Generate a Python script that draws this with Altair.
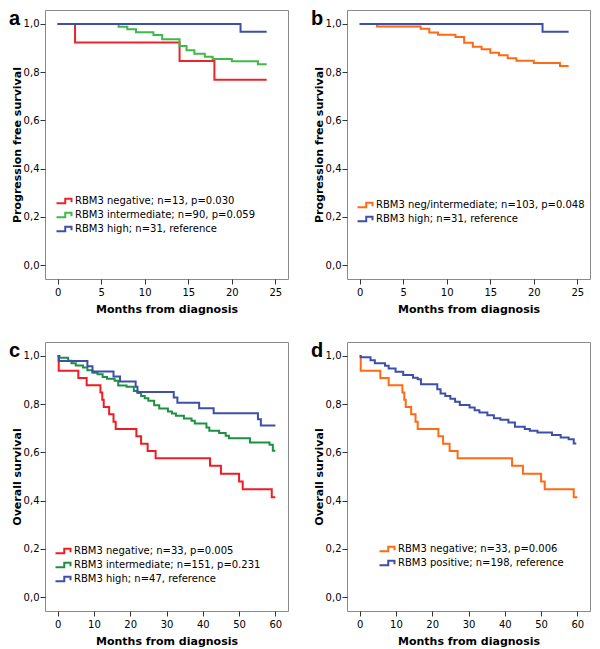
import altair as alt
import pandas as pd

# ---------------- text ----------------
letters = ["a", "b", "c", "d"]
pfs_title = "Progression free survival"
os_title = "Overall survival"
x_title = "Months from diagnosis"

# ---------------- panel a (PFS, 3 groups) ----------------
a_labels = ["RBM3 negative; n=13, p=0.030",
            "RBM3 intermediate; n=90, p=0.059",
            "RBM3 high; n=31, reference"]
a_colors = ["#e8262c", "#3dba48", "#3c50aa"]
a_neg_t = [0, 2, 14, 18, 24]
a_neg_s = [1.0, 0.923, 0.846, 0.769, 0.769]
a_int_t = [0, 7, 8, 9, 11, 12, 14, 14.8, 15.7, 16.9, 17.8, 20, 23, 24]
a_int_s = [1.0, 0.989, 0.978, 0.966, 0.954, 0.937, 0.909, 0.891, 0.876, 0.864, 0.855, 0.845, 0.833, 0.833]
a_high_t = [0, 21, 24]
a_high_s = [1.0, 0.968, 0.968]

# ---------------- panel b (PFS, 2 groups) ----------------
b_labels = ["RBM3 neg/intermediate; n=103, p=0.048",
            "RBM3 high; n=31, reference"]
b_colors = ["#ff6a13", "#3c50aa"]
b_neg_t = [0, 2, 7, 8, 9, 11, 12, 13, 14, 15, 16, 17, 18, 20, 23, 24]
b_neg_s = [1.0, 0.990, 0.980, 0.965, 0.955, 0.946, 0.922, 0.906, 0.895, 0.881, 0.870, 0.858, 0.847, 0.838, 0.826, 0.826]
b_high_t = [0, 21, 24]
b_high_s = [1.0, 0.968, 0.968]

# ---------------- panel c (OS, 3 groups) ----------------
c_labels = ["RBM3 negative; n=33, p=0.005",
            "RBM3 intermediate; n=151, p=0.231",
            "RBM3 high; n=47, reference"]
c_colors = ["#ee1c24", "#1d9142", "#3c50aa"]
c_neg_t = [0, 0.3, 5.7, 8, 11.8, 12.3, 12.7, 14.2, 15.4, 16, 21.7, 23, 24.8, 27, 42, 45, 50, 51, 59, 60]
c_neg_s = [1.0, 0.939, 0.909, 0.879, 0.848, 0.818, 0.788, 0.758, 0.727, 0.697, 0.667, 0.636, 0.606, 0.576, 0.545, 0.511, 0.479, 0.447, 0.414, 0.414]
c_int_t = [0, 0.5, 2.9, 3.8, 5, 7, 8.2, 9.6, 11, 12.4, 13.6, 15.7, 16.7, 19, 21, 22, 23, 24, 25, 26.6,
           28, 30.4, 31.5, 32.6, 34.8, 36.9, 37.8, 41, 41.8, 44.5, 46.3, 47.2, 53, 58.4, 59.3, 60]
c_int_s = [1.0, 0.993, 0.980, 0.970, 0.961, 0.952, 0.941, 0.930, 0.924, 0.913, 0.906, 0.897, 0.878, 0.872, 0.855,
           0.846, 0.834, 0.825, 0.814, 0.796, 0.782, 0.770, 0.761, 0.752, 0.741, 0.731, 0.720, 0.703, 0.690, 0.680,
           0.669, 0.659, 0.641, 0.632, 0.607, 0.607]
c_high_t = [0, 0.3, 8.2, 9.6, 15.4, 17.2, 21.5, 22, 32, 33, 39, 43, 55.2, 56, 60]
c_high_s = [1.0, 0.979, 0.957, 0.936, 0.915, 0.894, 0.872, 0.851, 0.828, 0.806, 0.783, 0.762, 0.737, 0.712, 0.712]

# ---------------- panel d (OS, 2 groups) ----------------
d_labels = ["RBM3 negative; n=33, p=0.006",
            "RBM3 positive; n=198, reference"]
d_colors = ["#ff6a13", "#3c50aa"]
d_neg_t = [0, 0.3, 5.7, 8, 11.8, 12.3, 12.7, 14.2, 15.4, 16, 21.7, 23, 24.8, 27, 42, 45, 50, 51, 59, 60]
d_neg_s = [1.0, 0.939, 0.909, 0.879, 0.848, 0.818, 0.788, 0.758, 0.727, 0.697, 0.667, 0.636, 0.606, 0.576, 0.545, 0.511, 0.479, 0.447, 0.414, 0.414]
d_pos_t = [0, 0.3, 3, 4.2, 7, 8, 9.9, 12, 14.7, 16, 16.9, 21.4, 22.3, 23.6, 25, 26.3, 27.6, 30.3, 31.7, 33,
           35.2, 37, 38.8, 41, 42.8, 45.5, 46.9, 49, 53, 55.4, 57.6, 59, 59.7]
d_pos_s = [1.0, 0.995, 0.982, 0.970, 0.959, 0.948, 0.935, 0.921, 0.910, 0.903, 0.883, 0.862, 0.844, 0.834, 0.823,
           0.810, 0.797, 0.786, 0.775, 0.766, 0.754, 0.742, 0.735, 0.724, 0.706, 0.697, 0.690, 0.683, 0.672, 0.662,
           0.655, 0.637, 0.637]

y_ticks = [0.0, 0.2, 0.4, 0.6, 0.8, 1.0]
x_ticks_pfs = [0, 5, 10, 15, 20, 25]
x_ticks_os = [0, 10, 20, 30, 40, 50, 60]

STEP_PATH = "M-1.5,0.43L0.25,0.43L0.25,-0.43L1.5,-0.43L1.5,0.25"
FONT = "DejaVu Sans"
W, H = 243, 269


def panel(letter, labels, colors, times, survs, xmax, xticks, ytitle, legx, legy):
    pad = xmax * 0.058
    xs = alt.Scale(domain=[-pad, xmax + pad], nice=False, zero=False)
    ys = alt.Scale(domain=[-0.058, 1.058], nice=False, zero=False)
    color = alt.Color(
        "series:N",
        scale=alt.Scale(domain=labels, range=colors),
        legend=alt.Legend(
            orient="none", legendX=legx, legendY=legy, title=None,
            symbolType=STEP_PATH, symbolSize=100, symbolStrokeWidth=2,
            symbolFillColor="transparent",
            labelFont=FONT, labelFontSize=10, labelColor="black",
            labelOffset=5, rowPadding=0, padding=0, labelLimit=400,
        ),
    )
    layers = []
    for lab, ts, ss in zip(labels, times, survs):
        df = pd.DataFrame({"series": lab, "month": ts, "surv": ss})
        layers.append(
            alt.Chart(df).mark_line(interpolate="step-after", strokeWidth=2).encode(
                x=alt.X("month:Q", scale=xs,
                        axis=alt.Axis(values=xticks, title=x_title, labelPadding=3,
                                      titlePadding=6, labelFlush=False)),
                y=alt.Y("surv:Q", scale=ys,
                        axis=alt.Axis(values=y_ticks, title=ytitle, labelPadding=1,
                                      titlePadding=1,
                                      labelExpr="replace(format(datum.value, '.1f'), '.', ',')")),
                color=color,
            )
        )
    letter_chart = alt.Chart(pd.DataFrame({"letter": [letter]})).mark_text(
        font="Liberation Sans", fontSize=20, fontWeight="bold", align="left",
        baseline="top", color="black",
    ).encode(text="letter:N", x=alt.value(-36), y=alt.value(-1))
    return alt.layer(*layers, letter_chart).properties(width=W, height=H)


pa = panel(letters[0], a_labels, a_colors, [a_neg_t, a_int_t, a_high_t],
           [a_neg_s, a_int_s, a_high_s], 25, x_ticks_pfs, pfs_title, 13, 185)
pb = panel(letters[1], b_labels, b_colors, [b_neg_t, b_high_t],
           [b_neg_s, b_high_s], 25, x_ticks_pfs, pfs_title, 12, 189)
pc = panel(letters[2], c_labels, c_colors, [c_neg_t, c_int_t, c_high_t],
           [c_neg_s, c_int_s, c_high_s], 60, x_ticks_os, os_title, 12, 203)
p_d = panel(letters[3], d_labels, d_colors, [d_neg_t, d_pos_t],
            [d_neg_s, d_pos_s], 60, x_ticks_os, os_title, 34, 201)

chart = alt.concat(
    pa, pb, pc, p_d, columns=2, spacing={"row": 63, "column": 59}, bounds="flush"
).resolve_scale(
    color="independent", x="independent", y="independent"
).resolve_legend(
    color="independent"
).properties(
    padding=0, background="white"
).configure_view(
    stroke="#8a8a8a", strokeWidth=1
).configure_axis(
    grid=False, domain=False, tickSize=5, tickColor="#333333", tickWidth=1,
    labelFont=FONT, labelFontSize=10, labelColor="black",
    titleFont=FONT, titleFontSize=11, titleFontWeight="bold", titleColor="black",
    labelOverlap=False,
)

chart.save("out.html", embed_options={"renderer": "svg", "actions": False})
